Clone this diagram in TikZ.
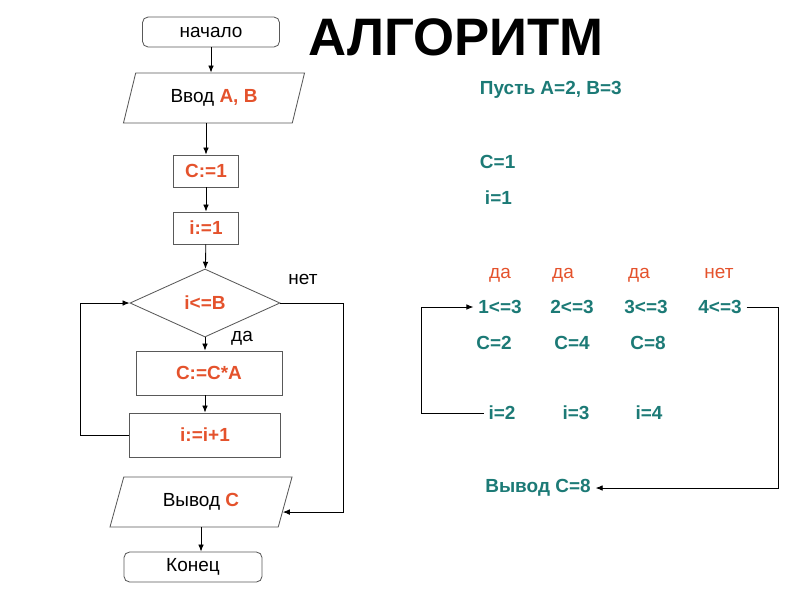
\documentclass[tikz,border=0pt]{standalone}
\usepackage{fontspec}
\setmainfont{Liberation Sans}
\usetikzlibrary{shapes.geometric,arrows.meta}
\definecolor{algred}{RGB}{228,82,44}
\definecolor{algteal}{RGB}{28,122,118}
\newcommand{\blocksize}{\fontsize{13.5}{16}\selectfont}

\begin{document}
\begin{tikzpicture}[x=0.025cm,y=-0.025cm,font=\blocksize,
  >={Latex[length=5pt,width=4pt]},
  term/.style={draw=black!65,line width=0.6pt,rounded corners=4pt,minimum height=0.75cm},
  io/.style={draw=black!65,line width=0.6pt,trapezium,trapezium stretches body=true,
    trapezium left angle=#1,trapezium right angle=180-#1,minimum height=1.25cm,inner sep=0pt},
  act/.style={draw=black!65,line width=0.6pt,minimum height=0.8cm},
  test/.style={draw=black!65,line width=0.6pt,diamond,inner sep=0pt,minimum width=3.75cm,minimum height=1.7cm},
  val/.style={text=algred,font=\blocksize\bfseries},
  trace/.style={text=algteal,font=\blocksize\bfseries},
  answer/.style={text=algred,anchor=base},
  link/.style={line width=0.6pt,->}]
\useasboundingbox (0,0) rectangle (800,600);

\node[font=\fontsize{37.5}{40}\selectfont\bfseries] (title) at (456,37) {АЛГОРИТМ};

% flowchart
\node[term,minimum width=3.425cm] (start) at (211,32) {начало};
\node[io=54,minimum width=4.525cm] (input) at (214,98) {Ввод \textcolor{algred}{\bfseries A, B}};
\node[act,val,minimum width=1.625cm] (cinit) at (206,171) {C:=1};
\node[act,val,minimum width=1.625cm] (iinit) at (206,228) {i:=1};
\node[test,val] (check) at (205,303) {i<=B};
\node[act,val,minimum width=3.65cm,minimum height=1.1cm] (mult) at (209,373) {C:=C*A};
\node[act,val,minimum width=3.775cm,minimum height=1.1cm] (incr) at (205,435) {i:=i+1};
\node[io=51,minimum width=4.55cm] (output) at (201,502) {Вывод \textcolor{algred}{\bfseries C}};
\node[term,minimum width=3.45cm] (stop) at (193,567) {Конец};
\node[anchor=base] (no) at (303,284) {нет};
\node[anchor=base] (yes) at (242,341) {да};

\draw[link] (start) -- (start |- input.north);
\draw[link] (input.south -| cinit.north) -- (cinit);
\draw[link] (cinit) -- (iinit);
\draw[link] (iinit) -- (check);
\draw[link] (check.south) -- (check.south |- mult.north);
\draw[link] (mult.south -| incr.north) -- (incr);
\draw[link] (incr.west) -- ++(-49,0) |- (check.west);
\draw[link] (check.east) -- ++(63,0) |- (output.-7);
\draw[link] (output.south) -- (output.south |- stop.north);

% trace
\node[trace,anchor=west] (let) at (475,90) {Пусть A=2, B=3};
\node[trace,anchor=west] (c1) at (475,162) {C=1};
\node[trace,anchor=west] (i1) at (480,198) {i=1};

\node[answer] (ans1) at (500,278) {да};
\node[answer] (ans2) at (563,278) {да};
\node[answer] (ans3) at (639,278) {да};
\node[answer] (ans4) at (719,278) {нет};

\node[trace] (cmp1) at (500,307) {1<=3};
\node[trace] (cmp2) at (572,307) {2<=3};
\node[trace] (cmp3) at (646,307) {3<=3};
\node[trace] (cmp4) at (720,307) {4<=3};

\node[trace] (c2) at (494,343) {C=2};
\node[trace] (c4) at (572,343) {C=4};
\node[trace] (c8) at (648,343) {C=8};

\node[trace] (i2) at (502,413) {i=2};
\node[trace] (i3) at (576,413) {i=3};
\node[trace] (i4) at (649,413) {i=4};

\node[trace] (res) at (538,488) {Вывод C=8};

\draw[link] (i2.west) -- ++(-62,0) |- (cmp1.west);
\draw[link] (cmp4.east) -- ++(32,0) |- (res.east);
\end{tikzpicture}
\end{document}
